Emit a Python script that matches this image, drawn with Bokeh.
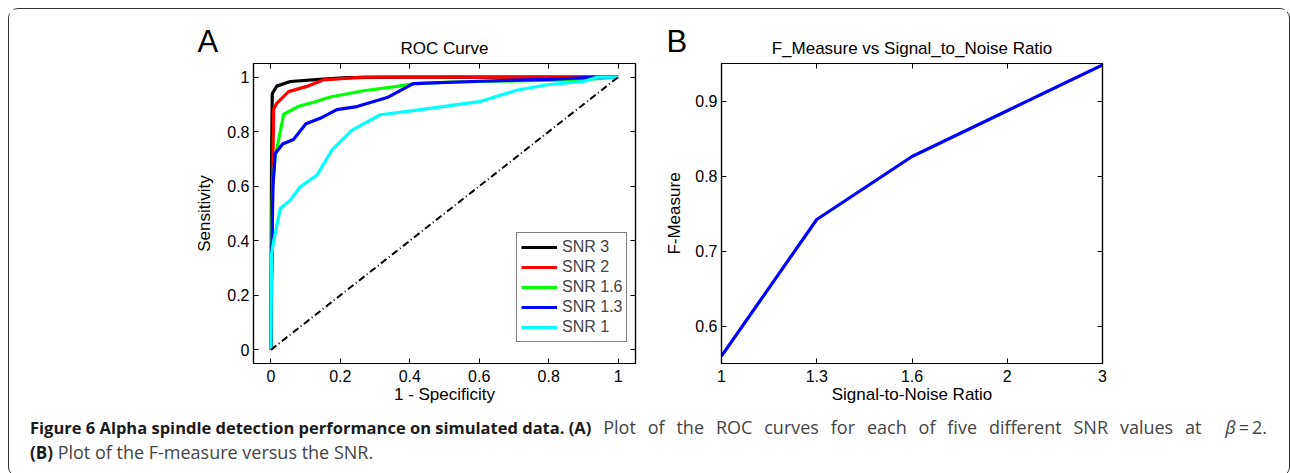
from bokeh.plotting import figure
from bokeh.models import (Range1d, LinearAxis, FixedTicker, Legend, LegendItem,
                          Div, Spacer, CustomLabelingPolicy)
from bokeh.layouts import column, row
from bokeh.embed import file_html
from bokeh.resources import INLINE

# ---------------- data ----------------
snr_labels = ["SNR 3", "SNR 2", "SNR 1.6", "SNR 1.3", "SNR 1"]
snr_colors = ["#000000", "#ff0000", "#00ff00", "#0000ff", "#00ffff"]

snr3_fpr = [0, 0.002, 0.004, 0.017, 0.056, 0.14, 0.22, 0.4, 1.0]
snr3_tpr = [0, 0.70, 0.94, 0.967, 0.984, 0.992, 0.998, 1.0, 1.0]

snr2_fpr = [0, 0.003, 0.005, 0.008, 0.017, 0.051, 0.104, 0.152, 0.267, 1.0]
snr2_tpr = [0, 0.30, 0.60, 0.882, 0.904, 0.947, 0.966, 0.99, 1.0, 1.0]

snr16_fpr = [0, 0.002, 0.005, 0.0125, 0.037, 0.08, 0.123, 0.171, 0.267, 0.363,
             0.41, 0.51, 0.7, 0.89, 1.0]
snr16_tpr = [0, 0.40, 0.60, 0.708, 0.864, 0.893, 0.908, 0.927, 0.950, 0.966,
             0.975, 0.982, 0.986, 0.99, 1.0]

snr13_fpr = [0, 0.002, 0.006, 0.0125, 0.034, 0.065, 0.101, 0.142, 0.19, 0.248,
             0.335, 0.41, 0.6, 0.8, 0.94, 1.0]
snr13_tpr = [0, 0.30, 0.60, 0.72, 0.755, 0.771, 0.829, 0.849, 0.881, 0.892,
             0.925, 0.976, 0.985, 0.992, 1.0, 1.0]

snr1_fpr = [0, 0.002, 0.0077, 0.027, 0.056, 0.085, 0.133, 0.176, 0.234, 0.315,
            0.41, 0.6, 0.71, 0.796, 0.9, 0.94, 1.0]
snr1_tpr = [0, 0.35, 0.396, 0.518, 0.549, 0.598, 0.641, 0.733, 0.806, 0.862,
            0.877, 0.91, 0.953, 0.972, 0.984, 1.0, 1.0]

chance_x = [0, 1]
chance_y = [0, 1]

snr_values = ["1", "1.3", "1.6", "2", "3"]
f_measure = [0.560, 0.742, 0.826, 0.887, 0.948]

roc_ticks = [0, 0.2, 0.4, 0.6, 0.8, 1]
f_ticks = [0.6, 0.7, 0.8, 0.9]

FONT = "Liberation Sans"
TICK_FS = "16px"
LAB_FS = "17px"

HIDE = CustomLabelingPolicy(code="""
const ids = [...indices];
for (const i of ids) indices.unset(i);
return indices;
""")


def frame_axes(p, xticks, yticks, panel_title, x_overrides=None):
    bottom = p.below[0]
    left = p.left[0]
    top = LinearAxis(ticker=FixedTicker(ticks=xticks), axis_label=panel_title)
    right = LinearAxis(ticker=FixedTicker(ticks=yticks))
    for ax in (top, right):
        ax.major_label_text_font_size = "0px"
        ax.major_label_standoff = 0
        ax.major_label_policy = HIDE
    top.axis_label_standoff = 6
    p.add_layout(top, "above")
    p.add_layout(right, "right")
    bottom.ticker = FixedTicker(ticks=xticks)
    left.ticker = FixedTicker(ticks=yticks)
    if x_overrides:
        bottom.major_label_overrides = x_overrides
    for ax in (bottom, left, top, right):
        ax.axis_line_color = "black"
        ax.axis_line_width = 1.2
        ax.major_tick_line_color = "black"
        ax.major_tick_line_width = 1
        ax.major_tick_in = 5
        ax.major_tick_out = 0
        ax.minor_tick_line_color = None
        ax.major_label_text_font = FONT
        ax.major_label_text_color = "black"
        ax.axis_label_text_font = FONT
        ax.axis_label_text_font_style = "normal"
        ax.axis_label_text_font_size = LAB_FS
        ax.axis_label_text_color = "black"
    for ax in (bottom, left):
        ax.major_label_text_font_size = TICK_FS
    bottom.major_label_standoff = 6
    bottom.axis_label_standoff = 0
    left.major_label_standoff = 4
    left.axis_label_standoff = 10
    p.xgrid.visible = False
    p.ygrid.visible = False
    p.outline_line_color = "black"
    p.outline_line_width = 1.2
    # panel letter as the plot title
    p.title.text_font = FONT
    p.title.text_font_size = "31px"
    p.title.text_font_style = "normal"
    p.title.align = "left"
    p.title.text_color = "black"
    p.title.standoff = -47
    return bottom, left


# ---------------- panel A ----------------
pa = figure(width=652, height=402, output_backend="svg", toolbar_location=None,
            x_range=Range1d(-0.05, 1.05), y_range=Range1d(-0.05, 1.05),
            title="A", x_axis_label="1 - Specificity",
            y_axis_label="Sensitivity",
            min_border_left=244, min_border_right=26,
            min_border_top=54, min_border_bottom=48)

series = [(snr3_fpr, snr3_tpr), (snr2_fpr, snr2_tpr), (snr16_fpr, snr16_tpr),
          (snr13_fpr, snr13_tpr), (snr1_fpr, snr1_tpr)]
renderers = []
for (xs, ys), c in zip(series, snr_colors):
    renderers.append(pa.line(xs, ys, line_color=c, line_width=3.2))
pa.line(chance_x, chance_y, line_color="black", line_width=2,
        line_dash="7 3 1 3")

frame_axes(pa, roc_ticks, roc_ticks, "ROC Curve")
pa.title.offset = -56

legend = Legend(items=[LegendItem(label=l, renderers=[r])
                       for l, r in zip(snr_labels, renderers)],
                location=(263, 21), orientation="vertical",
                padding=4, spacing=0, margin=0,
                label_height=20, glyph_height=20, glyph_width=36,
                label_width=58, label_standoff=5,
                label_text_font=FONT, label_text_font_size="16px",
                border_line_color="black", border_line_width=1.2,
                background_fill_color="white", background_fill_alpha=1)
pa.add_layout(legend)

# ---------------- panel B ----------------
pb = figure(width=626, height=402, output_backend="svg", toolbar_location=None,
            x_range=Range1d(0, len(snr_values) - 1), y_range=Range1d(0.55, 0.95),
            title="B",
            x_axis_label="Signal-to-Noise Ratio", y_axis_label="F-Measure",
            min_border_left=60, min_border_right=185,
            min_border_top=54, min_border_bottom=48)
xpos = list(range(len(snr_values)))
pb.line(xpos, f_measure, line_color="#0000ff", line_width=3.2)
b_bottom, b_left = frame_axes(pb, xpos, f_ticks,
                              "F_Measure vs Signal_to_Noise Ratio",
                              {i: s for i, s in enumerate(snr_values)})
b_left.axis_label_standoff = 8
pb.title.offset = -55

# ---------------- caption ----------------
caption = Div(
    text=('<div style="width:1237px;text-align:justify;text-align-last:justify;white-space:normal">'
          '<span style="display:inline-block;white-space:nowrap;font-weight:bold;color:#1a1a1a;font-size:16.5px">'
          'Figure 6 Alpha spindle detection performance on simulated data. (A)</span>'
          ' Plot of the ROC curves for each of five different SNR values at &nbsp;<i>β</i>&thinsp;=&thinsp;2.</div>'
          '<div style="white-space:nowrap"><b style="color:#1a1a1a;font-size:17px">(B)</b> Plot of the F-measure versus the SNR.</div>'),
    width=1270, height=56,
    styles={"font-family": "Open Sans", "font-size": "18px", "color": "#444",
            "line-height": "24px", "padding-left": "16px",
            "margin-top": "4px"})

boxed = column(row(pa, pb), caption,
               styles={"border": "1.5px solid #333", "border-radius": "10px"})
layout = column(Spacer(height=8), row(Spacer(width=8), boxed))

open("out.html", "w").write(file_html(layout, INLINE))
